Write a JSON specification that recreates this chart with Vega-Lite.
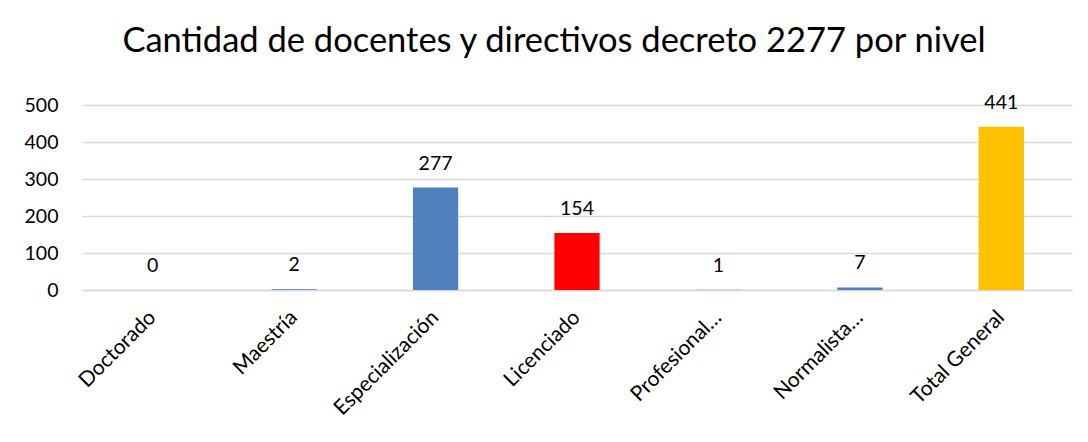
{
  "$schema": "https://vega.github.io/schema/vega-lite/v6.json",
  "autosize": {"type": "none"},
  "padding": {"left": 82, "top": 105, "right": 16, "bottom": 152},
  "width": 990,
  "height": 185,
  "background": "white",
  "title": {
    "text": "Cantidad de docentes y directivos decreto 2277 por nivel",
    "font": "Lato",
    "fontSize": 34.5,
    "fontWeight": "normal",
    "color": "#000000",
    "anchor": "middle",
    "baseline": "alphabetic",
    "offset": 6,
    "dx": -23
  },
  "data": {
    "values": [
      {"nivel": "Doctorado", "cantidad": 0, "grupo": "azul"},
      {"nivel": "Maestría", "cantidad": 2, "grupo": "azul"},
      {"nivel": "Especialización", "cantidad": 277, "grupo": "azul"},
      {"nivel": "Licenciado", "cantidad": 154, "grupo": "rojo"},
      {"nivel": "Profesional…", "cantidad": 1, "grupo": "azul"},
      {"nivel": "Normalista…", "cantidad": 7, "grupo": "azul"},
      {"nivel": "Total General", "cantidad": 441, "grupo": "oro"}
    ]
  },
  "encoding": {
    "x": {
      "field": "nivel",
      "type": "nominal",
      "sort": null,
      "scale": {"paddingInner": 0.68, "paddingOuter": 0.34},
      "axis": {
        "title": null,
        "labelAngle": -45,
        "labelAlign": "right",
        "labelBaseline": "middle",
        "labelFont": "Lato",
        "labelFontSize": 21,
        "labelColor": "#000000",
        "labelPadding": 24,
        "ticks": false,
        "domainColor": "#D9D9D9",
        "domainWidth": 1.5,
        "grid": false
      }
    },
    "y": {
      "field": "cantidad",
      "type": "quantitative",
      "scale": {"domain": [0, 500], "nice": false},
      "axis": {
        "title": null,
        "values": [0, 100, 200, 300, 400, 500],
        "labelFont": "Lato",
        "labelFontSize": 19.5,
        "labelColor": "#000000",
        "labelPadding": 24,
        "ticks": false,
        "domain": false,
        "grid": true,
        "gridColor": "#D9D9D9",
        "gridWidth": 1.5
      }
    }
  },
  "layer": [
    {
      "mark": {"type": "bar"},
      "encoding": {
        "color": {
          "field": "grupo",
          "type": "nominal",
          "scale": {"domain": ["azul", "rojo", "oro"], "range": ["#4F81BD", "#FF0000", "#FFC000"]},
          "legend": null
        }
      }
    },
    {
      "mark": {"type": "text", "baseline": "alphabetic", "dy": -18, "font": "Lato", "fontSize": 19.5, "color": "#000000"},
      "encoding": {
        "text": {"field": "cantidad", "type": "quantitative"}
      }
    }
  ],
  "config": {"view": {"stroke": null}}
}
